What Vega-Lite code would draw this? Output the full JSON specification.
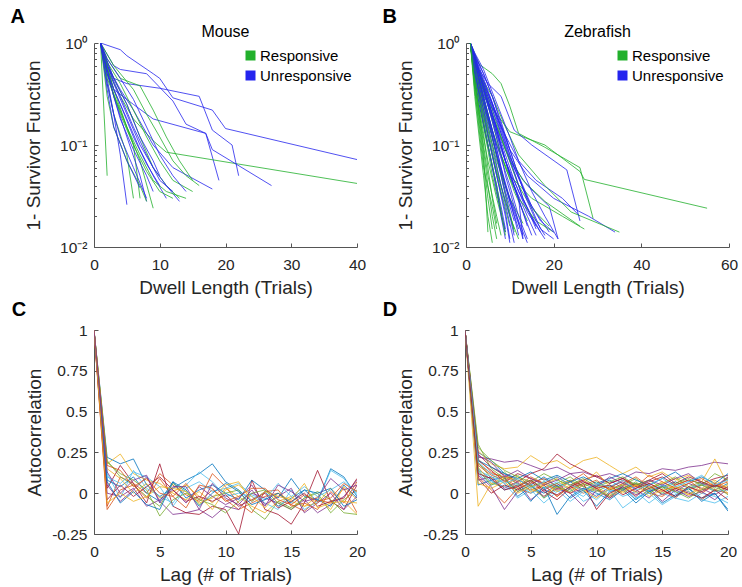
{
"$schema":"https://vega.github.io/schema/vega-lite/v6.json",
"padding":{"left":10,"top":7,"right":5,"bottom":5},
"background":"white",
"config":{"font":"Liberation Sans","view":{"stroke":null},
"axis":{"grid":false,"domainColor":"#555555","tickColor":"#555555","labelColor":"#262626","titleColor":"#262626","labelFontSize":15.5,"titleFontSize":19,"titleFontWeight":"normal","tickSize":-4,"labelFlush":false,"labelOverlap":false},
"axisX":{"labelPadding":14,"titlePadding":6},
"axisY":{"labelPadding":11},
"title":{"color":"#000000","fontWeight":"normal"}},
"resolve":{"scale":{"color":"independent"},"legend":{"color":"independent"}},
"datasets":{
"a":[
{"s":1,"g":"U","x":1,"y":1},{"s":1,"g":"U","x":4,"y":0.86},{"s":1,"g":"U","x":5,"y":0.75},{"s":1,"g":"U","x":9,"y":0.5},{"s":1,"g":"U","x":10,"y":0.45},{"s":1,"g":"U","x":12,"y":0.29},{"s":1,"g":"U","x":18,"y":0.22},{"s":1,"g":"U","x":20,"y":0.145},{"s":1,"g":"U","x":40,"y":0.072},
{"s":2,"g":"R","x":1,"y":1},{"s":2,"g":"R","x":2,"y":0.05},
{"s":3,"g":"U","x":1,"y":1},{"s":3,"g":"U","x":3,"y":0.6},{"s":3,"g":"U","x":4,"y":0.55},{"s":3,"g":"U","x":8,"y":0.5},{"s":3,"g":"U","x":12,"y":0.27},{"s":3,"g":"U","x":14,"y":0.16},{"s":3,"g":"U","x":17,"y":0.13},{"s":3,"g":"U","x":19,"y":0.045},
{"s":4,"g":"R","x":1,"y":1},{"s":4,"g":"R","x":2,"y":0.55},{"s":4,"g":"R","x":4,"y":0.3},{"s":4,"g":"R","x":6,"y":0.18},{"s":4,"g":"R","x":9,"y":0.11},{"s":4,"g":"R","x":11,"y":0.085},{"s":4,"g":"R","x":22,"y":0.065},{"s":4,"g":"R","x":40,"y":0.042},
{"s":5,"g":"U","x":1,"y":1},{"s":5,"g":"U","x":3,"y":0.45},{"s":5,"g":"U","x":5,"y":0.4},{"s":5,"g":"U","x":10,"y":0.36},{"s":5,"g":"U","x":16,"y":0.3},{"s":5,"g":"U","x":18,"y":0.14},{"s":5,"g":"U","x":21,"y":0.1},{"s":5,"g":"U","x":22,"y":0.05},
{"s":6,"g":"R","x":1,"y":1},{"s":6,"g":"R","x":2,"y":0.4},{"s":6,"g":"R","x":3,"y":0.2},{"s":6,"g":"R","x":5,"y":0.08},{"s":6,"g":"R","x":6,"y":0.03},
{"s":7,"g":"U","x":1,"y":1},{"s":7,"g":"U","x":3,"y":0.35},{"s":7,"g":"U","x":6,"y":0.25},{"s":7,"g":"U","x":9,"y":0.18},{"s":7,"g":"U","x":17,"y":0.13},{"s":7,"g":"U","x":18,"y":0.09},{"s":7,"g":"U","x":27,"y":0.04},
{"s":8,"g":"R","x":1,"y":1},{"s":8,"g":"R","x":2,"y":0.5},{"s":8,"g":"R","x":4,"y":0.2},{"s":8,"g":"R","x":6,"y":0.1},{"s":8,"g":"R","x":7,"y":0.03},
{"s":9,"g":"U","x":1,"y":1},{"s":9,"g":"U","x":2,"y":0.6},{"s":9,"g":"U","x":4,"y":0.35},{"s":9,"g":"U","x":6,"y":0.22},{"s":9,"g":"U","x":9,"y":0.1},{"s":9,"g":"U","x":12,"y":0.06},{"s":9,"g":"U","x":18,"y":0.037},
{"s":10,"g":"R","x":1,"y":1},{"s":10,"g":"R","x":2,"y":0.6},{"s":10,"g":"R","x":3,"y":0.45},{"s":10,"g":"R","x":5,"y":0.25},{"s":10,"g":"R","x":7,"y":0.12},{"s":10,"g":"R","x":9,"y":0.06},{"s":10,"g":"R","x":11,"y":0.04},{"s":10,"g":"R","x":13,"y":0.03},
{"s":11,"g":"U","x":1,"y":1},{"s":11,"g":"U","x":2,"y":0.45},{"s":11,"g":"U","x":3,"y":0.2},{"s":11,"g":"U","x":4,"y":0.08},{"s":11,"g":"U","x":5,"y":0.026},
{"s":12,"g":"R","x":1,"y":1},{"s":12,"g":"R","x":2,"y":0.7},{"s":12,"g":"R","x":4,"y":0.45},{"s":12,"g":"R","x":7,"y":0.38},{"s":12,"g":"R","x":9,"y":0.22},{"s":12,"g":"R","x":11,"y":0.12},{"s":12,"g":"R","x":13,"y":0.07},{"s":12,"g":"R","x":15,"y":0.045},
{"s":13,"g":"U","x":1,"y":1},{"s":13,"g":"U","x":2,"y":0.5},{"s":13,"g":"U","x":3,"y":0.3},{"s":13,"g":"U","x":5,"y":0.12},{"s":13,"g":"U","x":7,"y":0.05},{"s":13,"g":"U","x":8,"y":0.028},
{"s":14,"g":"R","x":1,"y":1},{"s":14,"g":"R","x":2,"y":0.55},{"s":14,"g":"R","x":3,"y":0.3},{"s":14,"g":"R","x":5,"y":0.15},{"s":14,"g":"R","x":7,"y":0.07},{"s":14,"g":"R","x":9,"y":0.024},
{"s":15,"g":"U","x":1,"y":1},{"s":15,"g":"U","x":2,"y":0.55},{"s":15,"g":"U","x":3,"y":0.35},{"s":15,"g":"U","x":5,"y":0.18},{"s":15,"g":"U","x":7,"y":0.09},{"s":15,"g":"U","x":9,"y":0.05},{"s":15,"g":"U","x":11,"y":0.03},
{"s":16,"g":"R","x":1,"y":1},{"s":16,"g":"R","x":3,"y":0.6},{"s":16,"g":"R","x":6,"y":0.35},{"s":16,"g":"R","x":8,"y":0.2},{"s":16,"g":"R","x":10,"y":0.12},{"s":16,"g":"R","x":12,"y":0.07},{"s":16,"g":"R","x":14,"y":0.05},{"s":16,"g":"R","x":16,"y":0.04},
{"s":17,"g":"U","x":1,"y":1},{"s":17,"g":"U","x":2,"y":0.6},{"s":17,"g":"U","x":4,"y":0.3},{"s":17,"g":"U","x":6,"y":0.15},{"s":17,"g":"U","x":8,"y":0.08},{"s":17,"g":"U","x":10,"y":0.045},{"s":17,"g":"U","x":12,"y":0.035},
{"s":18,"g":"R","x":1,"y":1},{"s":18,"g":"R","x":2,"y":0.3},{"s":18,"g":"R","x":3,"y":0.15},{"s":18,"g":"R","x":5,"y":0.07},{"s":18,"g":"R","x":7,"y":0.04},{"s":18,"g":"R","x":8,"y":0.028},
{"s":19,"g":"U","x":1,"y":1},{"s":19,"g":"U","x":2,"y":0.4},{"s":19,"g":"U","x":3,"y":0.2},{"s":19,"g":"U","x":4,"y":0.12},{"s":19,"g":"U","x":6,"y":0.06},{"s":19,"g":"U","x":8,"y":0.03},
{"s":20,"g":"R","x":1,"y":1},{"s":20,"g":"R","x":2,"y":0.45},{"s":20,"g":"R","x":4,"y":0.22},{"s":20,"g":"R","x":6,"y":0.1},{"s":20,"g":"R","x":8,"y":0.055},{"s":20,"g":"R","x":10,"y":0.035},{"s":20,"g":"R","x":12,"y":0.03},
{"s":21,"g":"U","x":1,"y":1},{"s":21,"g":"U","x":3,"y":0.4},{"s":21,"g":"U","x":5,"y":0.2},{"s":21,"g":"U","x":7,"y":0.1},{"s":21,"g":"U","x":9,"y":0.06},{"s":21,"g":"U","x":11,"y":0.04},{"s":21,"g":"U","x":13,"y":0.028},
{"s":22,"g":"R","x":1,"y":1},{"s":22,"g":"R","x":2,"y":0.65},{"s":22,"g":"R","x":4,"y":0.4},{"s":22,"g":"R","x":6,"y":0.22},{"s":22,"g":"R","x":8,"y":0.12},{"s":22,"g":"R","x":10,"y":0.07},{"s":22,"g":"R","x":12,"y":0.045},{"s":22,"g":"R","x":15,"y":0.035},
{"s":23,"g":"U","x":1,"y":1},{"s":23,"g":"U","x":2,"y":0.7},{"s":23,"g":"U","x":4,"y":0.45},{"s":23,"g":"U","x":6,"y":0.28},{"s":23,"g":"U","x":8,"y":0.15},{"s":23,"g":"U","x":10,"y":0.08},{"s":23,"g":"U","x":12,"y":0.05},{"s":23,"g":"U","x":14,"y":0.035},
{"s":24,"g":"R","x":1,"y":1},{"s":24,"g":"R","x":3,"y":0.35},{"s":24,"g":"R","x":5,"y":0.15},{"s":24,"g":"R","x":7,"y":0.08},{"s":24,"g":"R","x":9,"y":0.045},{"s":24,"g":"R","x":11,"y":0.035},{"s":24,"g":"R","x":14,"y":0.03},
{"s":25,"g":"U","x":1,"y":1},{"s":25,"g":"U","x":2,"y":0.35},{"s":25,"g":"U","x":3,"y":0.15},{"s":25,"g":"U","x":5,"y":0.07},{"s":25,"g":"U","x":7,"y":0.038},
{"s":26,"g":"U","x":1,"y":1},{"s":26,"g":"U","x":2,"y":0.65},{"s":26,"g":"U","x":3,"y":0.45},{"s":26,"g":"U","x":5,"y":0.25},{"s":26,"g":"U","x":7,"y":0.12},{"s":26,"g":"U","x":9,"y":0.07},{"s":26,"g":"U","x":10,"y":0.05},
{"s":27,"g":"U","x":1,"y":1},{"s":27,"g":"U","x":3,"y":0.3},{"s":27,"g":"U","x":4,"y":0.18},{"s":27,"g":"U","x":6,"y":0.09},{"s":27,"g":"U","x":8,"y":0.05},{"s":27,"g":"U","x":9,"y":0.035},
{"s":28,"g":"U","x":1,"y":1},{"s":28,"g":"U","x":2,"y":0.5},{"s":28,"g":"U","x":4,"y":0.25},{"s":28,"g":"U","x":6,"y":0.12},{"s":28,"g":"U","x":8,"y":0.065},{"s":28,"g":"U","x":10,"y":0.04}
],
"b":[
{"s":1,"g":"U","x":1,"y":1},{"s":1,"g":"U","x":2,"y":0.7},{"s":1,"g":"U","x":4,"y":0.4},{"s":1,"g":"U","x":7,"y":0.2},{"s":1,"g":"U","x":10,"y":0.09},{"s":1,"g":"U","x":14,"y":0.05},{"s":1,"g":"U","x":20,"y":0.03},{"s":1,"g":"U","x":28,"y":0.02},{"s":1,"g":"U","x":34,"y":0.014},
{"s":2,"g":"R","x":1,"y":1},{"s":2,"g":"R","x":2,"y":0.6},{"s":2,"g":"R","x":4,"y":0.3},{"s":2,"g":"R","x":7,"y":0.2},{"s":2,"g":"R","x":10,"y":0.135},{"s":2,"g":"R","x":13,"y":0.12},{"s":2,"g":"R","x":18,"y":0.1},{"s":2,"g":"R","x":26,"y":0.055},{"s":2,"g":"R","x":27,"y":0.046},{"s":2,"g":"R","x":55,"y":0.024},
{"s":3,"g":"U","x":1,"y":1},{"s":3,"g":"U","x":3,"y":0.55},{"s":3,"g":"U","x":5,"y":0.4},{"s":3,"g":"U","x":8,"y":0.3},{"s":3,"g":"U","x":11,"y":0.14},{"s":3,"g":"U","x":15,"y":0.1},{"s":3,"g":"U","x":23,"y":0.057},{"s":3,"g":"U","x":26,"y":0.018},
{"s":4,"g":"R","x":1,"y":1},{"s":4,"g":"R","x":3,"y":0.62},{"s":4,"g":"R","x":6,"y":0.5},{"s":4,"g":"R","x":8,"y":0.4},{"s":4,"g":"R","x":10,"y":0.24},{"s":4,"g":"R","x":12,"y":0.13},{"s":4,"g":"R","x":18,"y":0.095},{"s":4,"g":"R","x":26,"y":0.06},{"s":4,"g":"R","x":29,"y":0.019},
{"s":5,"g":"U","x":1,"y":1},{"s":5,"g":"U","x":3,"y":0.5},{"s":5,"g":"U","x":5,"y":0.3},{"s":5,"g":"U","x":8,"y":0.15},{"s":5,"g":"U","x":12,"y":0.07},{"s":5,"g":"U","x":16,"y":0.045},{"s":5,"g":"U","x":22,"y":0.03},{"s":5,"g":"U","x":26,"y":0.02},
{"s":6,"g":"R","x":1,"y":1},{"s":6,"g":"R","x":3,"y":0.5},{"s":6,"g":"R","x":6,"y":0.3},{"s":6,"g":"R","x":9,"y":0.15},{"s":6,"g":"R","x":12,"y":0.08},{"s":6,"g":"R","x":18,"y":0.04},{"s":6,"g":"R","x":24,"y":0.022},{"s":6,"g":"R","x":35,"y":0.014},
{"s":7,"g":"U","x":1,"y":1},{"s":7,"g":"U","x":2,"y":0.6},{"s":7,"g":"U","x":4,"y":0.35},{"s":7,"g":"U","x":7,"y":0.15},{"s":7,"g":"U","x":10,"y":0.07},{"s":7,"g":"U","x":14,"y":0.04},{"s":7,"g":"U","x":19,"y":0.025},{"s":7,"g":"U","x":21,"y":0.012},
{"s":8,"g":"R","x":1,"y":1},{"s":8,"g":"R","x":2,"y":0.5},{"s":8,"g":"R","x":4,"y":0.25},{"s":8,"g":"R","x":7,"y":0.1},{"s":8,"g":"R","x":10,"y":0.05},{"s":8,"g":"R","x":15,"y":0.03},{"s":8,"g":"R","x":22,"y":0.02},{"s":8,"g":"R","x":27,"y":0.015},
{"s":9,"g":"U","x":1,"y":1},{"s":9,"g":"U","x":2,"y":0.65},{"s":9,"g":"U","x":3,"y":0.45},{"s":9,"g":"U","x":5,"y":0.25},{"s":9,"g":"U","x":7,"y":0.13},{"s":9,"g":"U","x":9,"y":0.07},{"s":9,"g":"U","x":12,"y":0.035},{"s":9,"g":"U","x":15,"y":0.02},{"s":9,"g":"U","x":17,"y":0.014},
{"s":10,"g":"R","x":1,"y":1},{"s":10,"g":"R","x":3,"y":0.45},{"s":10,"g":"R","x":6,"y":0.2},{"s":10,"g":"R","x":9,"y":0.09},{"s":10,"g":"R","x":13,"y":0.045},{"s":10,"g":"R","x":18,"y":0.028},{"s":10,"g":"R","x":26,"y":0.016},
{"s":11,"g":"U","x":1,"y":1},{"s":11,"g":"U","x":2,"y":0.6},{"s":11,"g":"U","x":3,"y":0.38},{"s":11,"g":"U","x":5,"y":0.17},{"s":11,"g":"U","x":7,"y":0.08},{"s":11,"g":"U","x":9,"y":0.04},{"s":11,"g":"U","x":11,"y":0.022},{"s":11,"g":"U","x":13,"y":0.013},
{"s":12,"g":"R","x":1,"y":1},{"s":12,"g":"R","x":2,"y":0.4},{"s":12,"g":"R","x":3,"y":0.18},{"s":12,"g":"R","x":4,"y":0.08},{"s":12,"g":"R","x":5,"y":0.014},
{"s":13,"g":"U","x":1,"y":1},{"s":13,"g":"U","x":2,"y":0.7},{"s":13,"g":"U","x":4,"y":0.42},{"s":13,"g":"U","x":6,"y":0.25},{"s":13,"g":"U","x":8,"y":0.13},{"s":13,"g":"U","x":10,"y":0.07},{"s":13,"g":"U","x":13,"y":0.03},{"s":13,"g":"U","x":16,"y":0.016},
{"s":14,"g":"R","x":1,"y":1},{"s":14,"g":"R","x":2,"y":0.45},{"s":14,"g":"R","x":3,"y":0.22},{"s":14,"g":"R","x":4,"y":0.1},{"s":14,"g":"R","x":5,"y":0.05},{"s":14,"g":"R","x":7,"y":0.02},{"s":14,"g":"R","x":8,"y":0.013},
{"s":15,"g":"U","x":1,"y":1},{"s":15,"g":"U","x":2,"y":0.55},{"s":15,"g":"U","x":3,"y":0.32},{"s":15,"g":"U","x":5,"y":0.12},{"s":15,"g":"U","x":7,"y":0.05},{"s":15,"g":"U","x":9,"y":0.022},{"s":15,"g":"U","x":10,"y":0.012},
{"s":16,"g":"R","x":1,"y":1},{"s":16,"g":"R","x":2,"y":0.35},{"s":16,"g":"R","x":3,"y":0.14},{"s":16,"g":"R","x":4,"y":0.06},{"s":16,"g":"R","x":6,"y":0.025},{"s":16,"g":"R","x":7,"y":0.015},
{"s":17,"g":"U","x":1,"y":1},{"s":17,"g":"U","x":2,"y":0.75},{"s":17,"g":"U","x":4,"y":0.5},{"s":17,"g":"U","x":6,"y":0.3},{"s":17,"g":"U","x":8,"y":0.16},{"s":17,"g":"U","x":10,"y":0.09},{"s":17,"g":"U","x":12,"y":0.05},{"s":17,"g":"U","x":15,"y":0.025},{"s":17,"g":"U","x":19,"y":0.014},
{"s":18,"g":"R","x":1,"y":1},{"s":18,"g":"R","x":2,"y":0.5},{"s":18,"g":"R","x":3,"y":0.3},{"s":18,"g":"R","x":5,"y":0.12},{"s":18,"g":"R","x":7,"y":0.055},{"s":18,"g":"R","x":9,"y":0.028},{"s":18,"g":"R","x":11,"y":0.015},
{"s":19,"g":"U","x":1,"y":1},{"s":19,"g":"U","x":2,"y":0.6},{"s":19,"g":"U","x":4,"y":0.28},{"s":19,"g":"U","x":6,"y":0.12},{"s":19,"g":"U","x":8,"y":0.055},{"s":19,"g":"U","x":10,"y":0.028},{"s":19,"g":"U","x":12,"y":0.015},
{"s":20,"g":"R","x":1,"y":1},{"s":20,"g":"R","x":2,"y":0.55},{"s":20,"g":"R","x":4,"y":0.22},{"s":20,"g":"R","x":6,"y":0.09},{"s":20,"g":"R","x":8,"y":0.04},{"s":20,"g":"R","x":10,"y":0.02},{"s":20,"g":"R","x":12,"y":0.012},
{"s":21,"g":"U","x":1,"y":1},{"s":21,"g":"U","x":2,"y":0.65},{"s":21,"g":"U","x":4,"y":0.35},{"s":21,"g":"U","x":6,"y":0.18},{"s":21,"g":"U","x":8,"y":0.09},{"s":21,"g":"U","x":11,"y":0.04},{"s":21,"g":"U","x":14,"y":0.02},{"s":21,"g":"U","x":16,"y":0.013},
{"s":22,"g":"R","x":1,"y":1},{"s":22,"g":"R","x":2,"y":0.4},{"s":22,"g":"R","x":3,"y":0.2},{"s":22,"g":"R","x":5,"y":0.07},{"s":22,"g":"R","x":7,"y":0.03},{"s":22,"g":"R","x":9,"y":0.014},
{"s":23,"g":"U","x":1,"y":1},{"s":23,"g":"U","x":2,"y":0.7},{"s":23,"g":"U","x":3,"y":0.5},{"s":23,"g":"U","x":5,"y":0.28},{"s":23,"g":"U","x":7,"y":0.15},{"s":23,"g":"U","x":9,"y":0.08},{"s":23,"g":"U","x":11,"y":0.045},{"s":23,"g":"U","x":14,"y":0.022},{"s":23,"g":"U","x":18,"y":0.012},
{"s":24,"g":"R","x":1,"y":1},{"s":24,"g":"R","x":2,"y":0.6},{"s":24,"g":"R","x":4,"y":0.3},{"s":24,"g":"R","x":6,"y":0.14},{"s":24,"g":"R","x":9,"y":0.06},{"s":24,"g":"R","x":12,"y":0.03},{"s":24,"g":"R","x":16,"y":0.018},{"s":24,"g":"R","x":20,"y":0.014},
{"s":25,"g":"U","x":1,"y":1},{"s":25,"g":"U","x":2,"y":0.5},{"s":25,"g":"U","x":3,"y":0.28},{"s":25,"g":"U","x":4,"y":0.16},{"s":25,"g":"U","x":6,"y":0.06},{"s":25,"g":"U","x":8,"y":0.025},{"s":25,"g":"U","x":9,"y":0.015},
{"s":26,"g":"R","x":1,"y":1},{"s":26,"g":"R","x":2,"y":0.3},{"s":26,"g":"R","x":3,"y":0.12},{"s":26,"g":"R","x":4,"y":0.05},{"s":26,"g":"R","x":5,"y":0.02},{"s":26,"g":"R","x":6,"y":0.011},
{"s":27,"g":"U","x":1,"y":1},{"s":27,"g":"U","x":2,"y":0.8},{"s":27,"g":"U","x":4,"y":0.55},{"s":27,"g":"U","x":6,"y":0.33},{"s":27,"g":"U","x":8,"y":0.2},{"s":27,"g":"U","x":10,"y":0.12},{"s":27,"g":"U","x":12,"y":0.07},{"s":27,"g":"U","x":15,"y":0.035},{"s":27,"g":"U","x":18,"y":0.02},{"s":27,"g":"U","x":21,"y":0.012},
{"s":28,"g":"R","x":1,"y":1},{"s":28,"g":"R","x":2,"y":0.5},{"s":28,"g":"R","x":4,"y":0.2},{"s":28,"g":"R","x":6,"y":0.08},{"s":28,"g":"R","x":8,"y":0.035},{"s":28,"g":"R","x":10,"y":0.016},
{"s":29,"g":"U","x":1,"y":1},{"s":29,"g":"U","x":2,"y":0.6},{"s":29,"g":"U","x":3,"y":0.4},{"s":29,"g":"U","x":5,"y":0.18},{"s":29,"g":"U","x":7,"y":0.08},{"s":29,"g":"U","x":9,"y":0.035},{"s":29,"g":"U","x":11,"y":0.018},
{"s":30,"g":"R","x":1,"y":1},{"s":30,"g":"R","x":2,"y":0.65},{"s":30,"g":"R","x":4,"y":0.35},{"s":30,"g":"R","x":6,"y":0.17},{"s":30,"g":"R","x":8,"y":0.08},{"s":30,"g":"R","x":11,"y":0.035},{"s":30,"g":"R","x":14,"y":0.018},
{"s":31,"g":"U","x":1,"y":1},{"s":31,"g":"U","x":2,"y":0.55},{"s":31,"g":"U","x":4,"y":0.25},{"s":31,"g":"U","x":6,"y":0.1},{"s":31,"g":"U","x":8,"y":0.04},{"s":31,"g":"U","x":10,"y":0.017},{"s":31,"g":"U","x":11,"y":0.011},
{"s":32,"g":"U","x":1,"y":1},{"s":32,"g":"U","x":2,"y":0.7},{"s":32,"g":"U","x":4,"y":0.38},{"s":32,"g":"U","x":6,"y":0.2},{"s":32,"g":"U","x":8,"y":0.1},{"s":32,"g":"U","x":10,"y":0.05},{"s":32,"g":"U","x":13,"y":0.022},{"s":32,"g":"U","x":15,"y":0.013},
{"s":33,"g":"R","x":1,"y":1},{"s":33,"g":"R","x":2,"y":0.45},{"s":33,"g":"R","x":3,"y":0.25},{"s":33,"g":"R","x":5,"y":0.09},{"s":33,"g":"R","x":6,"y":0.05},{"s":33,"g":"R","x":8,"y":0.022},
{"s":34,"g":"U","x":1,"y":1},{"s":34,"g":"U","x":3,"y":0.5},{"s":34,"g":"U","x":5,"y":0.27},{"s":34,"g":"U","x":7,"y":0.14},{"s":34,"g":"U","x":9,"y":0.07},{"s":34,"g":"U","x":12,"y":0.03},{"s":34,"g":"U","x":14,"y":0.016},
{"s":35,"g":"U","x":1,"y":1},{"s":35,"g":"U","x":2,"y":0.45},{"s":35,"g":"U","x":3,"y":0.25},{"s":35,"g":"U","x":5,"y":0.1},{"s":35,"g":"U","x":7,"y":0.04},{"s":35,"g":"U","x":8,"y":0.02},{"s":35,"g":"U","x":9,"y":0.012},
{"s":36,"g":"R","x":1,"y":1},{"s":36,"g":"R","x":2,"y":0.55},{"s":36,"g":"R","x":3,"y":0.35},{"s":36,"g":"R","x":5,"y":0.15},{"s":36,"g":"R","x":7,"y":0.07},{"s":36,"g":"R","x":10,"y":0.03},{"s":36,"g":"R","x":13,"y":0.017},
{"s":37,"g":"U","x":1,"y":1},{"s":37,"g":"U","x":2,"y":0.75},{"s":37,"g":"U","x":4,"y":0.45},{"s":37,"g":"U","x":6,"y":0.26},{"s":37,"g":"U","x":8,"y":0.14},{"s":37,"g":"U","x":11,"y":0.06},{"s":37,"g":"U","x":14,"y":0.03},{"s":37,"g":"U","x":17,"y":0.018},{"s":37,"g":"U","x":20,"y":0.014},
{"s":38,"g":"U","x":1,"y":1},{"s":38,"g":"U","x":2,"y":0.6},{"s":38,"g":"U","x":4,"y":0.32},{"s":38,"g":"U","x":7,"y":0.14},{"s":38,"g":"U","x":9,"y":0.07},{"s":38,"g":"U","x":12,"y":0.03},{"s":38,"g":"U","x":13,"y":0.012},
{"s":39,"g":"R","x":1,"y":1},{"s":39,"g":"R","x":2,"y":0.7},{"s":39,"g":"R","x":4,"y":0.4},{"s":39,"g":"R","x":6,"y":0.22},{"s":39,"g":"R","x":9,"y":0.09},{"s":39,"g":"R","x":12,"y":0.04},{"s":39,"g":"R","x":15,"y":0.024},{"s":39,"g":"R","x":19,"y":0.016},
{"s":40,"g":"U","x":1,"y":1},{"s":40,"g":"U","x":3,"y":0.42},{"s":40,"g":"U","x":5,"y":0.2},{"s":40,"g":"U","x":7,"y":0.09},{"s":40,"g":"U","x":9,"y":0.04},{"s":40,"g":"U","x":11,"y":0.02},{"s":40,"g":"U","x":12,"y":0.013},
{"s":41,"g":"U","x":1,"y":1},{"s":41,"g":"U","x":2,"y":0.55},{"s":41,"g":"U","x":3,"y":0.3},{"s":41,"g":"U","x":4,"y":0.17},{"s":41,"g":"U","x":6,"y":0.06},{"s":41,"g":"U","x":7,"y":0.035},{"s":41,"g":"U","x":9,"y":0.014},
{"s":42,"g":"R","x":1,"y":1},{"s":42,"g":"R","x":2,"y":0.45},{"s":42,"g":"R","x":3,"y":0.2},{"s":42,"g":"R","x":4,"y":0.09},{"s":42,"g":"R","x":5,"y":0.04},{"s":42,"g":"R","x":6,"y":0.02},{"s":42,"g":"R","x":7,"y":0.012},
{"s":43,"g":"U","x":1,"y":1},{"s":43,"g":"U","x":2,"y":0.65},{"s":43,"g":"U","x":4,"y":0.3},{"s":43,"g":"U","x":6,"y":0.14},{"s":43,"g":"U","x":8,"y":0.06},{"s":43,"g":"U","x":10,"y":0.03},{"s":43,"g":"U","x":12,"y":0.018},{"s":43,"g":"U","x":14,"y":0.011},
{"s":44,"g":"U","x":1,"y":1},{"s":44,"g":"U","x":2,"y":0.72},{"s":44,"g":"U","x":3,"y":0.52},{"s":44,"g":"U","x":5,"y":0.3},{"s":44,"g":"U","x":7,"y":0.17},{"s":44,"g":"U","x":9,"y":0.1},{"s":44,"g":"U","x":11,"y":0.055},{"s":44,"g":"U","x":13,"y":0.03},{"s":44,"g":"U","x":16,"y":0.015},
{"s":45,"g":"R","x":1,"y":1},{"s":45,"g":"R","x":2,"y":0.5},{"s":45,"g":"R","x":3,"y":0.28},{"s":45,"g":"R","x":5,"y":0.1},{"s":45,"g":"R","x":7,"y":0.04},{"s":45,"g":"R","x":8,"y":0.022},{"s":45,"g":"R","x":9,"y":0.013},
{"s":46,"g":"U","x":1,"y":1},{"s":46,"g":"U","x":2,"y":0.6},{"s":46,"g":"U","x":3,"y":0.4},{"s":46,"g":"U","x":5,"y":0.2},{"s":46,"g":"U","x":7,"y":0.1},{"s":46,"g":"U","x":10,"y":0.04},{"s":46,"g":"U","x":12,"y":0.02},{"s":46,"g":"U","x":14,"y":0.012},
{"s":47,"g":"U","x":1,"y":1},{"s":47,"g":"U","x":3,"y":0.55},{"s":47,"g":"U","x":5,"y":0.33},{"s":47,"g":"U","x":7,"y":0.2},{"s":47,"g":"U","x":9,"y":0.11},{"s":47,"g":"U","x":11,"y":0.06},{"s":47,"g":"U","x":14,"y":0.03},{"s":47,"g":"U","x":17,"y":0.015},{"s":47,"g":"U","x":20,"y":0.012},
{"s":48,"g":"R","x":1,"y":1},{"s":48,"g":"R","x":2,"y":0.35},{"s":48,"g":"R","x":3,"y":0.16},{"s":48,"g":"R","x":4,"y":0.07},{"s":48,"g":"R","x":5,"y":0.03},{"s":48,"g":"R","x":6,"y":0.015},
{"s":49,"g":"U","x":1,"y":1},{"s":49,"g":"U","x":2,"y":0.68},{"s":49,"g":"U","x":4,"y":0.36},{"s":49,"g":"U","x":6,"y":0.17},{"s":49,"g":"U","x":8,"y":0.08},{"s":49,"g":"U","x":9,"y":0.05},{"s":49,"g":"U","x":11,"y":0.025},{"s":49,"g":"U","x":13,"y":0.012},
{"s":50,"g":"U","x":1,"y":1},{"s":50,"g":"U","x":2,"y":0.5},{"s":50,"g":"U","x":4,"y":0.22},{"s":50,"g":"U","x":5,"y":0.13},{"s":50,"g":"U","x":7,"y":0.05},{"s":50,"g":"U","x":9,"y":0.02},{"s":50,"g":"U","x":10,"y":0.011},
{"s":51,"g":"R","x":1,"y":1},{"s":51,"g":"R","x":2,"y":0.6},{"s":51,"g":"R","x":4,"y":0.28},{"s":51,"g":"R","x":6,"y":0.12},{"s":51,"g":"R","x":8,"y":0.05},{"s":51,"g":"R","x":10,"y":0.022},{"s":51,"g":"R","x":11,"y":0.014},
{"s":52,"g":"U","x":1,"y":1},{"s":52,"g":"U","x":2,"y":0.78},{"s":52,"g":"U","x":4,"y":0.5},{"s":52,"g":"U","x":6,"y":0.3},{"s":52,"g":"U","x":8,"y":0.17},{"s":52,"g":"U","x":10,"y":0.09},{"s":52,"g":"U","x":12,"y":0.05},{"s":52,"g":"U","x":14,"y":0.028},{"s":52,"g":"U","x":16,"y":0.018},{"s":52,"g":"U","x":18,"y":0.013},
{"s":53,"g":"U","x":1,"y":1},{"s":53,"g":"U","x":2,"y":0.62},{"s":53,"g":"U","x":3,"y":0.42},{"s":53,"g":"U","x":5,"y":0.19},{"s":53,"g":"U","x":6,"y":0.12},{"s":53,"g":"U","x":8,"y":0.05},{"s":53,"g":"U","x":10,"y":0.02},{"s":53,"g":"U","x":11,"y":0.013},
{"s":54,"g":"R","x":1,"y":1},{"s":54,"g":"R","x":2,"y":0.4},{"s":54,"g":"R","x":4,"y":0.13},{"s":54,"g":"R","x":5,"y":0.06},{"s":54,"g":"R","x":6,"y":0.03},{"s":54,"g":"R","x":7,"y":0.017}
],
"c":[
{"s":1,"x":0,"y":1},{"s":1,"x":1,"y":0.22},{"s":1,"x":2,"y":0.18},{"s":1,"x":3,"y":0.21},{"s":1,"x":4,"y":0.05},{"s":1,"x":5,"y":-0.02},{"s":1,"x":6,"y":0.03},{"s":1,"x":7,"y":0.08},{"s":1,"x":8,"y":0.12},{"s":1,"x":9,"y":0.18},{"s":1,"x":10,"y":0.07},{"s":1,"x":11,"y":0.02},{"s":1,"x":12,"y":-0.05},{"s":1,"x":13,"y":0.01},{"s":1,"x":14,"y":-0.08},{"s":1,"x":15,"y":-0.03},{"s":1,"x":16,"y":0.02},{"s":1,"x":17,"y":-0.05},{"s":1,"x":18,"y":0.15},{"s":1,"x":19,"y":0.1},{"s":1,"x":20,"y":-0.02},
{"s":2,"x":0,"y":1},{"s":2,"x":1,"y":-0.08},{"s":2,"x":2,"y":0.1},{"s":2,"x":3,"y":0.06},{"s":2,"x":4,"y":0},{"s":2,"x":5,"y":0.12},{"s":2,"x":6,"y":0.05},{"s":2,"x":7,"y":-0.01},{"s":2,"x":8,"y":-0.05},{"s":2,"x":9,"y":0.02},{"s":2,"x":10,"y":-0.04},{"s":2,"x":11,"y":-0.1},{"s":2,"x":12,"y":-0.06},{"s":2,"x":13,"y":-0.02},{"s":2,"x":14,"y":0},{"s":2,"x":15,"y":-0.07},{"s":2,"x":16,"y":-0.11},{"s":2,"x":17,"y":-0.04},{"s":2,"x":18,"y":-0.06},{"s":2,"x":19,"y":0.03},{"s":2,"x":20,"y":-0.12},
{"s":3,"x":0,"y":1},{"s":3,"x":1,"y":0.18},{"s":3,"x":2,"y":0.24},{"s":3,"x":3,"y":0.12},{"s":3,"x":4,"y":0.08},{"s":3,"x":5,"y":0.06},{"s":3,"x":6,"y":0},{"s":3,"x":7,"y":-0.04},{"s":3,"x":8,"y":0.01},{"s":3,"x":9,"y":-0.06},{"s":3,"x":10,"y":0.03},{"s":3,"x":11,"y":-0.02},{"s":3,"x":12,"y":-0.08},{"s":3,"x":13,"y":-0.12},{"s":3,"x":14,"y":-0.05},{"s":3,"x":15,"y":-0.02},{"s":3,"x":16,"y":-0.08},{"s":3,"x":17,"y":-0.06},{"s":3,"x":18,"y":0.03},{"s":3,"x":19,"y":-0.05},{"s":3,"x":20,"y":-0.13},
{"s":4,"x":0,"y":1},{"s":4,"x":1,"y":0.05},{"s":4,"x":2,"y":-0.05},{"s":4,"x":3,"y":0.02},{"s":4,"x":4,"y":0.1},{"s":4,"x":5,"y":-0.05},{"s":4,"x":6,"y":-0.13},{"s":4,"x":7,"y":-0.12},{"s":4,"x":8,"y":-0.1},{"s":4,"x":9,"y":-0.15},{"s":4,"x":10,"y":-0.08},{"s":4,"x":11,"y":-0.1},{"s":4,"x":12,"y":0},{"s":4,"x":13,"y":-0.03},{"s":4,"x":14,"y":-0.06},{"s":4,"x":15,"y":-0.1},{"s":4,"x":16,"y":-0.04},{"s":4,"x":17,"y":-0.12},{"s":4,"x":18,"y":-0.07},{"s":4,"x":19,"y":-0.02},{"s":4,"x":20,"y":0.08},
{"s":5,"x":0,"y":1},{"s":5,"x":1,"y":0.2},{"s":5,"x":2,"y":0.1},{"s":5,"x":3,"y":0.05},{"s":5,"x":4,"y":-0.02},{"s":5,"x":5,"y":-0.08},{"s":5,"x":6,"y":0.06},{"s":5,"x":7,"y":0.01},{"s":5,"x":8,"y":-0.07},{"s":5,"x":9,"y":-0.02},{"s":5,"x":10,"y":0},{"s":5,"x":11,"y":0.02},{"s":5,"x":12,"y":-0.1},{"s":5,"x":13,"y":-0.16},{"s":5,"x":14,"y":-0.05},{"s":5,"x":15,"y":-0.09},{"s":5,"x":16,"y":-0.03},{"s":5,"x":17,"y":0},{"s":5,"x":18,"y":-0.12},{"s":5,"x":19,"y":-0.04},{"s":5,"x":20,"y":0.02},
{"s":6,"x":0,"y":1},{"s":6,"x":1,"y":0.12},{"s":6,"x":2,"y":-0.03},{"s":6,"x":3,"y":0.14},{"s":6,"x":4,"y":0.03},{"s":6,"x":5,"y":-0.02},{"s":6,"x":6,"y":-0.06},{"s":6,"x":7,"y":0.05},{"s":6,"x":8,"y":0.13},{"s":6,"x":9,"y":0.07},{"s":6,"x":10,"y":-0.02},{"s":6,"x":11,"y":0},{"s":6,"x":12,"y":-0.02},{"s":6,"x":13,"y":-0.06},{"s":6,"x":14,"y":-0.1},{"s":6,"x":15,"y":0.02},{"s":6,"x":16,"y":-0.1},{"s":6,"x":17,"y":-0.05},{"s":6,"x":18,"y":0.14},{"s":6,"x":19,"y":0.09},{"s":6,"x":20,"y":-0.01},
{"s":7,"x":0,"y":1},{"s":7,"x":1,"y":0.03},{"s":7,"x":2,"y":0.17},{"s":7,"x":3,"y":0.06},{"s":7,"x":4,"y":-0.06},{"s":7,"x":5,"y":0.18},{"s":7,"x":6,"y":-0.08},{"s":7,"x":7,"y":-0.12},{"s":7,"x":8,"y":-0.13},{"s":7,"x":9,"y":-0.08},{"s":7,"x":10,"y":-0.1},{"s":7,"x":11,"y":-0.25},{"s":7,"x":12,"y":0.08},{"s":7,"x":13,"y":-0.1},{"s":7,"x":14,"y":-0.13},{"s":7,"x":15,"y":-0.19},{"s":7,"x":16,"y":-0.06},{"s":7,"x":17,"y":0.14},{"s":7,"x":18,"y":-0.05},{"s":7,"x":19,"y":-0.1},{"s":7,"x":20,"y":0.05},
{"s":8,"x":0,"y":1},{"s":8,"x":1,"y":0.08},{"s":8,"x":2,"y":0.04},{"s":8,"x":3,"y":0.1},{"s":8,"x":4,"y":0},{"s":8,"x":5,"y":-0.05},{"s":8,"x":6,"y":0.07},{"s":8,"x":7,"y":-0.03},{"s":8,"x":8,"y":0.02},{"s":8,"x":9,"y":0.05},{"s":8,"x":10,"y":0},{"s":8,"x":11,"y":-0.04},{"s":8,"x":12,"y":0.08},{"s":8,"x":13,"y":0.02},{"s":8,"x":14,"y":-0.03},{"s":8,"x":15,"y":0.09},{"s":8,"x":16,"y":-0.02},{"s":8,"x":17,"y":-0.04},{"s":8,"x":18,"y":-0.08},{"s":8,"x":19,"y":0.05},{"s":8,"x":20,"y":-0.03},
{"s":9,"x":0,"y":1},{"s":9,"x":1,"y":-0.1},{"s":9,"x":2,"y":0.02},{"s":9,"x":3,"y":0.05},{"s":9,"x":4,"y":-0.03},{"s":9,"x":5,"y":0.09},{"s":9,"x":6,"y":-0.02},{"s":9,"x":7,"y":0.06},{"s":9,"x":8,"y":-0.04},{"s":9,"x":9,"y":0.12},{"s":9,"x":10,"y":0.04},{"s":9,"x":11,"y":-0.06},{"s":9,"x":12,"y":-0.12},{"s":9,"x":13,"y":0.01},{"s":9,"x":14,"y":0.02},{"s":9,"x":15,"y":-0.08},{"s":9,"x":16,"y":-0.06},{"s":9,"x":17,"y":-0.1},{"s":9,"x":18,"y":0.01},{"s":9,"x":19,"y":-0.06},{"s":9,"x":20,"y":0.07},
{"s":10,"x":0,"y":1},{"s":10,"x":1,"y":0.15},{"s":10,"x":2,"y":0.09},{"s":10,"x":3,"y":0},{"s":10,"x":4,"y":0.06},{"s":10,"x":5,"y":-0.03},{"s":10,"x":6,"y":0.01},{"s":10,"x":7,"y":0.05},{"s":10,"x":8,"y":-0.02},{"s":10,"x":9,"y":-0.1},{"s":10,"x":10,"y":0.02},{"s":10,"x":11,"y":0.05},{"s":10,"x":12,"y":-0.02},{"s":10,"x":13,"y":-0.09},{"s":10,"x":14,"y":0},{"s":10,"x":15,"y":-0.05},{"s":10,"x":16,"y":-0.08},{"s":10,"x":17,"y":-0.02},{"s":10,"x":18,"y":-0.1},{"s":10,"x":19,"y":0.04},{"s":10,"x":20,"y":-0.04},
{"s":11,"x":0,"y":1},{"s":11,"x":1,"y":0},{"s":11,"x":2,"y":-0.02},{"s":11,"x":3,"y":0.03},{"s":11,"x":4,"y":-0.08},{"s":11,"x":5,"y":-0.04},{"s":11,"x":6,"y":0.02},{"s":11,"x":7,"y":-0.06},{"s":11,"x":8,"y":0.04},{"s":11,"x":9,"y":-0.02},{"s":11,"x":10,"y":-0.07},{"s":11,"x":11,"y":-0.03},{"s":11,"x":12,"y":0.05},{"s":11,"x":13,"y":-0.07},{"s":11,"x":14,"y":-0.02},{"s":11,"x":15,"y":0.03},{"s":11,"x":16,"y":-0.12},{"s":11,"x":17,"y":-0.06},{"s":11,"x":18,"y":0},{"s":11,"x":19,"y":-0.1},{"s":11,"x":20,"y":-0.02},
{"s":12,"x":0,"y":1},{"s":12,"x":1,"y":0.19},{"s":12,"x":2,"y":0.12},{"s":12,"x":3,"y":0.08},{"s":12,"x":4,"y":0.02},{"s":12,"x":5,"y":-0.14},{"s":12,"x":6,"y":-0.04},{"s":12,"x":7,"y":0},{"s":12,"x":8,"y":-0.04},{"s":12,"x":9,"y":-0.07},{"s":12,"x":10,"y":-0.12},{"s":12,"x":11,"y":-0.05},{"s":12,"x":12,"y":0},{"s":12,"x":13,"y":0.02},{"s":12,"x":14,"y":-0.06},{"s":12,"x":15,"y":-0.1},{"s":12,"x":16,"y":-0.03},{"s":12,"x":17,"y":0.01},{"s":12,"x":18,"y":-0.04},{"s":12,"x":19,"y":-0.12},{"s":12,"x":20,"y":-0.13},
{"s":13,"x":0,"y":1},{"s":13,"x":1,"y":0.1},{"s":13,"x":2,"y":0.06},{"s":13,"x":3,"y":0.13},{"s":13,"x":4,"y":0.1},{"s":13,"x":5,"y":0.04},{"s":13,"x":6,"y":-0.08},{"s":13,"x":7,"y":0.03},{"s":13,"x":8,"y":0.07},{"s":13,"x":9,"y":0.01},{"s":13,"x":10,"y":0.03},{"s":13,"x":11,"y":0.06},{"s":13,"x":12,"y":-0.01},{"s":13,"x":13,"y":-0.04},{"s":13,"x":14,"y":0.06},{"s":13,"x":15,"y":-0.02},{"s":13,"x":16,"y":0.04},{"s":13,"x":17,"y":-0.02},{"s":13,"x":18,"y":0.02},{"s":13,"x":19,"y":0.07},{"s":13,"x":20,"y":0},
{"s":14,"x":0,"y":1},{"s":14,"x":1,"y":-0.04},{"s":14,"x":2,"y":0.05},{"s":14,"x":3,"y":-0.02},{"s":14,"x":4,"y":0.04},{"s":14,"x":5,"y":0.1},{"s":14,"x":6,"y":0.02},{"s":14,"x":7,"y":-0.05},{"s":14,"x":8,"y":-0.02},{"s":14,"x":9,"y":-0.05},{"s":14,"x":10,"y":-0.01},{"s":14,"x":11,"y":-0.08},{"s":14,"x":12,"y":-0.04},{"s":14,"x":13,"y":0},{"s":14,"x":14,"y":-0.09},{"s":14,"x":15,"y":-0.05},{"s":14,"x":16,"y":0},{"s":14,"x":17,"y":-0.08},{"s":14,"x":18,"y":-0.05},{"s":14,"x":19,"y":-0.03},{"s":14,"x":20,"y":0.09},
{"s":15,"x":0,"y":1},{"s":15,"x":1,"y":0.07},{"s":15,"x":2,"y":-0.06},{"s":15,"x":3,"y":0.01},{"s":15,"x":4,"y":-0.07},{"s":15,"x":5,"y":-0.1},{"s":15,"x":6,"y":0.07},{"s":15,"x":7,"y":0.02},{"s":15,"x":8,"y":-0.08},{"s":15,"x":9,"y":0},{"s":15,"x":10,"y":0.06},{"s":15,"x":11,"y":0.01},{"s":15,"x":12,"y":-0.07},{"s":15,"x":13,"y":-0.04},{"s":15,"x":14,"y":0},{"s":15,"x":15,"y":-0.06},{"s":15,"x":16,"y":0.02},{"s":15,"x":17,"y":0},{"s":15,"x":18,"y":0.03},{"s":15,"x":19,"y":-0.08},{"s":15,"x":20,"y":-0.04},
{"s":16,"x":0,"y":1},{"s":16,"x":1,"y":0.17},{"s":16,"x":2,"y":0.14},{"s":16,"x":3,"y":0.04},{"s":16,"x":4,"y":0.09},{"s":16,"x":5,"y":0},{"s":16,"x":6,"y":-0.02},{"s":16,"x":7,"y":-0.09},{"s":16,"x":8,"y":0.05},{"s":16,"x":9,"y":0.03},{"s":16,"x":10,"y":-0.05},{"s":16,"x":11,"y":-0.02},{"s":16,"x":12,"y":0.03},{"s":16,"x":13,"y":0.03},{"s":16,"x":14,"y":-0.04},{"s":16,"x":15,"y":-0.07},{"s":16,"x":16,"y":-0.01},{"s":16,"x":17,"y":-0.05},{"s":16,"x":18,"y":-0.03},{"s":16,"x":19,"y":0.06},{"s":16,"x":20,"y":0.01},
{"s":17,"x":0,"y":1},{"s":17,"x":1,"y":-0.06},{"s":17,"x":2,"y":0},{"s":17,"x":3,"y":-0.05},{"s":17,"x":4,"y":-0.02},{"s":17,"x":5,"y":0.04},{"s":17,"x":6,"y":0.03},{"s":17,"x":7,"y":0.01},{"s":17,"x":8,"y":-0.06},{"s":17,"x":9,"y":-0.03},{"s":17,"x":10,"y":0.05},{"s":17,"x":11,"y":0.07},{"s":17,"x":12,"y":-0.05},{"s":17,"x":13,"y":0.01},{"s":17,"x":14,"y":-0.02},{"s":17,"x":15,"y":-0.04},{"s":17,"x":16,"y":0.06},{"s":17,"x":17,"y":-0.09},{"s":17,"x":18,"y":-0.06},{"s":17,"x":19,"y":-0.05},{"s":17,"x":20,"y":-0.06},
{"s":18,"x":0,"y":1},{"s":18,"x":1,"y":0.13},{"s":18,"x":2,"y":0},{"s":18,"x":3,"y":0.08},{"s":18,"x":4,"y":0.11},{"s":18,"x":5,"y":-0.06},{"s":18,"x":6,"y":0.04},{"s":18,"x":7,"y":0.04},{"s":18,"x":8,"y":-0.1},{"s":18,"x":9,"y":0.06},{"s":18,"x":10,"y":-0.03},{"s":18,"x":11,"y":-0.07},{"s":18,"x":12,"y":0.02},{"s":18,"x":13,"y":-0.08},{"s":18,"x":14,"y":0.05},{"s":18,"x":15,"y":0.01},{"s":18,"x":16,"y":-0.05},{"s":18,"x":17,"y":-0.03},{"s":18,"x":18,"y":0.09},{"s":18,"x":19,"y":0.02},{"s":18,"x":20,"y":0.05}
],
"d":[
{"s":1,"x":0,"y":1},{"s":1,"x":1,"y":0.25},{"s":1,"x":2,"y":0.2},{"s":1,"x":3,"y":0.12},{"s":1,"x":4,"y":0.08},{"s":1,"x":5,"y":0.05},{"s":1,"x":6,"y":0.1},{"s":1,"x":7,"y":0.04},{"s":1,"x":8,"y":0.07},{"s":1,"x":9,"y":0.02},{"s":1,"x":10,"y":0.05},{"s":1,"x":11,"y":0.08},{"s":1,"x":12,"y":0.03},{"s":1,"x":13,"y":0.06},{"s":1,"x":14,"y":0.01},{"s":1,"x":15,"y":0.04},{"s":1,"x":16,"y":0.07},{"s":1,"x":17,"y":0.03},{"s":1,"x":18,"y":0.05},{"s":1,"x":19,"y":0.02},{"s":1,"x":20,"y":0.06},
{"s":2,"x":0,"y":1},{"s":2,"x":1,"y":0.18},{"s":2,"x":2,"y":0.12},{"s":2,"x":3,"y":0.1},{"s":2,"x":4,"y":0.06},{"s":2,"x":5,"y":0.02},{"s":2,"x":6,"y":0.05},{"s":2,"x":7,"y":-0.02},{"s":2,"x":8,"y":0.04},{"s":2,"x":9,"y":0},{"s":2,"x":10,"y":0.03},{"s":2,"x":11,"y":-0.03},{"s":2,"x":12,"y":0.02},{"s":2,"x":13,"y":0.05},{"s":2,"x":14,"y":0},{"s":2,"x":15,"y":-0.02},{"s":2,"x":16,"y":0.03},{"s":2,"x":17,"y":0.01},{"s":2,"x":18,"y":-0.04},{"s":2,"x":19,"y":0.02},{"s":2,"x":20,"y":0},
{"s":3,"x":0,"y":1},{"s":3,"x":1,"y":-0.08},{"s":3,"x":2,"y":0.06},{"s":3,"x":3,"y":0.04},{"s":3,"x":4,"y":0.1},{"s":3,"x":5,"y":0.03},{"s":3,"x":6,"y":-0.02},{"s":3,"x":7,"y":0.05},{"s":3,"x":8,"y":0.08},{"s":3,"x":9,"y":0.01},{"s":3,"x":10,"y":0.04},{"s":3,"x":11,"y":-0.01},{"s":3,"x":12,"y":0.06},{"s":3,"x":13,"y":0},{"s":3,"x":14,"y":0.03},{"s":3,"x":15,"y":0.07},{"s":3,"x":16,"y":0.02},{"s":3,"x":17,"y":-0.01},{"s":3,"x":18,"y":0.05},{"s":3,"x":19,"y":0.08},{"s":3,"x":20,"y":0.03},
{"s":4,"x":0,"y":1},{"s":4,"x":1,"y":0.22},{"s":4,"x":2,"y":0.21},{"s":4,"x":3,"y":0.19},{"s":4,"x":4,"y":0.2},{"s":4,"x":5,"y":0.17},{"s":4,"x":6,"y":0.14},{"s":4,"x":7,"y":0.16},{"s":4,"x":8,"y":0.12},{"s":4,"x":9,"y":0.13},{"s":4,"x":10,"y":0.1},{"s":4,"x":11,"y":0.12},{"s":4,"x":12,"y":0.09},{"s":4,"x":13,"y":0.13},{"s":4,"x":14,"y":0.12},{"s":4,"x":15,"y":0.15},{"s":4,"x":16,"y":0.14},{"s":4,"x":17,"y":0.16},{"s":4,"x":18,"y":0.17},{"s":4,"x":19,"y":0.19},{"s":4,"x":20,"y":0.18},
{"s":5,"x":0,"y":1},{"s":5,"x":1,"y":0.3},{"s":5,"x":2,"y":0.15},{"s":5,"x":3,"y":0.09},{"s":5,"x":4,"y":0.11},{"s":5,"x":5,"y":0.04},{"s":5,"x":6,"y":0.07},{"s":5,"x":7,"y":0.03},{"s":5,"x":8,"y":0.08},{"s":5,"x":9,"y":0.04},{"s":5,"x":10,"y":0.01},{"s":5,"x":11,"y":0.05},{"s":5,"x":12,"y":0.02},{"s":5,"x":13,"y":0.06},{"s":5,"x":14,"y":0.03},{"s":5,"x":15,"y":0},{"s":5,"x":16,"y":0.04},{"s":5,"x":17,"y":0.02},{"s":5,"x":18,"y":0.05},{"s":5,"x":19,"y":0.01},{"s":5,"x":20,"y":0.04},
{"s":6,"x":0,"y":1},{"s":6,"x":1,"y":0.12},{"s":6,"x":2,"y":0.05},{"s":6,"x":3,"y":0.08},{"s":6,"x":4,"y":0.02},{"s":6,"x":5,"y":0.06},{"s":6,"x":6,"y":-0.03},{"s":6,"x":7,"y":0.02},{"s":6,"x":8,"y":-0.05},{"s":6,"x":9,"y":0.01},{"s":6,"x":10,"y":-0.04},{"s":6,"x":11,"y":0.03},{"s":6,"x":12,"y":-0.02},{"s":6,"x":13,"y":0.01},{"s":6,"x":14,"y":-0.06},{"s":6,"x":15,"y":0},{"s":6,"x":16,"y":-0.03},{"s":6,"x":17,"y":-0.05},{"s":6,"x":18,"y":0},{"s":6,"x":19,"y":-0.02},{"s":6,"x":20,"y":-0.06},
{"s":7,"x":0,"y":1},{"s":7,"x":1,"y":0.2},{"s":7,"x":2,"y":0.14},{"s":7,"x":3,"y":0.07},{"s":7,"x":4,"y":0.12},{"s":7,"x":5,"y":0.09},{"s":7,"x":6,"y":0.06},{"s":7,"x":7,"y":0.1},{"s":7,"x":8,"y":0.05},{"s":7,"x":9,"y":0.08},{"s":7,"x":10,"y":0.11},{"s":7,"x":11,"y":0.06},{"s":7,"x":12,"y":0.09},{"s":7,"x":13,"y":0.04},{"s":7,"x":14,"y":0.07},{"s":7,"x":15,"y":0.1},{"s":7,"x":16,"y":0.05},{"s":7,"x":17,"y":0.08},{"s":7,"x":18,"y":0.06},{"s":7,"x":19,"y":0.09},{"s":7,"x":20,"y":0.11},
{"s":8,"x":0,"y":1},{"s":8,"x":1,"y":0.15},{"s":8,"x":2,"y":0.08},{"s":8,"x":3,"y":0.1},{"s":8,"x":4,"y":-0.02},{"s":8,"x":5,"y":0.04},{"s":8,"x":6,"y":0},{"s":8,"x":7,"y":0.05},{"s":8,"x":8,"y":-0.03},{"s":8,"x":9,"y":0.02},{"s":8,"x":10,"y":-0.08},{"s":8,"x":11,"y":0.01},{"s":8,"x":12,"y":0.03},{"s":8,"x":13,"y":-0.04},{"s":8,"x":14,"y":0.02},{"s":8,"x":15,"y":-0.06},{"s":8,"x":16,"y":-0.01},{"s":8,"x":17,"y":0.03},{"s":8,"x":18,"y":-0.05},{"s":8,"x":19,"y":0},{"s":8,"x":20,"y":-0.1},
{"s":9,"x":0,"y":1},{"s":9,"x":1,"y":0.1},{"s":9,"x":2,"y":0.02},{"s":9,"x":3,"y":-0.06},{"s":9,"x":4,"y":0.03},{"s":9,"x":5,"y":0},{"s":9,"x":6,"y":0.05},{"s":9,"x":7,"y":-0.02},{"s":9,"x":8,"y":0.04},{"s":9,"x":9,"y":0.08},{"s":9,"x":10,"y":0.03},{"s":9,"x":11,"y":-0.02},{"s":9,"x":12,"y":0.05},{"s":9,"x":13,"y":0.01},{"s":9,"x":14,"y":0.06},{"s":9,"x":15,"y":0.02},{"s":9,"x":16,"y":-0.03},{"s":9,"x":17,"y":0.04},{"s":9,"x":18,"y":0},{"s":9,"x":19,"y":0.05},{"s":9,"x":20,"y":0.02},
{"s":10,"x":0,"y":1},{"s":10,"x":1,"y":0.26},{"s":10,"x":2,"y":0.18},{"s":10,"x":3,"y":0.15},{"s":10,"x":4,"y":0.16},{"s":10,"x":5,"y":0.23},{"s":10,"x":6,"y":0.18},{"s":10,"x":7,"y":0.2},{"s":10,"x":8,"y":0.15},{"s":10,"x":9,"y":0.2},{"s":10,"x":10,"y":0.22},{"s":10,"x":11,"y":0.17},{"s":10,"x":12,"y":0.12},{"s":10,"x":13,"y":0.16},{"s":10,"x":14,"y":0.1},{"s":10,"x":15,"y":0.13},{"s":10,"x":16,"y":0.08},{"s":10,"x":17,"y":0.11},{"s":10,"x":18,"y":0.07},{"s":10,"x":19,"y":0.21},{"s":10,"x":20,"y":0.05},
{"s":11,"x":0,"y":1},{"s":11,"x":1,"y":0.08},{"s":11,"x":2,"y":0.1},{"s":11,"x":3,"y":0.03},{"s":11,"x":4,"y":0.07},{"s":11,"x":5,"y":-0.04},{"s":11,"x":6,"y":0.02},{"s":11,"x":7,"y":0.06},{"s":11,"x":8,"y":0},{"s":11,"x":9,"y":0.03},{"s":11,"x":10,"y":-0.02},{"s":11,"x":11,"y":0.04},{"s":11,"x":12,"y":0.07},{"s":11,"x":13,"y":0.02},{"s":11,"x":14,"y":-0.03},{"s":11,"x":15,"y":0.05},{"s":11,"x":16,"y":0.01},{"s":11,"x":17,"y":0.06},{"s":11,"x":18,"y":0.03},{"s":11,"x":19,"y":-0.01},{"s":11,"x":20,"y":0.04},
{"s":12,"x":0,"y":1},{"s":12,"x":1,"y":0.19},{"s":12,"x":2,"y":0.09},{"s":12,"x":3,"y":0.13},{"s":12,"x":4,"y":0.05},{"s":12,"x":5,"y":0.08},{"s":12,"x":6,"y":0.03},{"s":12,"x":7,"y":0.06},{"s":12,"x":8,"y":0.1},{"s":12,"x":9,"y":0.04},{"s":12,"x":10,"y":0.07},{"s":12,"x":11,"y":0.02},{"s":12,"x":12,"y":0.05},{"s":12,"x":13,"y":0.09},{"s":12,"x":14,"y":0.03},{"s":12,"x":15,"y":0.06},{"s":12,"x":16,"y":0.1},{"s":12,"x":17,"y":0.04},{"s":12,"x":18,"y":0.07},{"s":12,"x":19,"y":0.03},{"s":12,"x":20,"y":0.1},
{"s":13,"x":0,"y":1},{"s":13,"x":1,"y":0.14},{"s":13,"x":2,"y":0.1},{"s":13,"x":3,"y":0.06},{"s":13,"x":4,"y":-0.03},{"s":13,"x":5,"y":0.02},{"s":13,"x":6,"y":-0.06},{"s":13,"x":7,"y":0.01},{"s":13,"x":8,"y":0.03},{"s":13,"x":9,"y":-0.05},{"s":13,"x":10,"y":-0.01},{"s":13,"x":11,"y":0.02},{"s":13,"x":12,"y":-0.09},{"s":13,"x":13,"y":-0.03},{"s":13,"x":14,"y":0},{"s":13,"x":15,"y":-0.07},{"s":13,"x":16,"y":-0.02},{"s":13,"x":17,"y":0.01},{"s":13,"x":18,"y":-0.04},{"s":13,"x":19,"y":-0.06},{"s":13,"x":20,"y":-0.02},
{"s":14,"x":0,"y":1},{"s":14,"x":1,"y":0.24},{"s":14,"x":2,"y":0.16},{"s":14,"x":3,"y":0.11},{"s":14,"x":4,"y":0.07},{"s":14,"x":5,"y":0.12},{"s":14,"x":6,"y":0.15},{"s":14,"x":7,"y":0.24},{"s":14,"x":8,"y":0.18},{"s":14,"x":9,"y":0.14},{"s":14,"x":10,"y":0.1},{"s":14,"x":11,"y":0.06},{"s":14,"x":12,"y":0.09},{"s":14,"x":13,"y":0.05},{"s":14,"x":14,"y":0.08},{"s":14,"x":15,"y":0.12},{"s":14,"x":16,"y":0.06},{"s":14,"x":17,"y":0.1},{"s":14,"x":18,"y":0.07},{"s":14,"x":19,"y":0.04},{"s":14,"x":20,"y":0.09},
{"s":15,"x":0,"y":1},{"s":15,"x":1,"y":0.05},{"s":15,"x":2,"y":0.08},{"s":15,"x":3,"y":0.02},{"s":15,"x":4,"y":0.05},{"s":15,"x":5,"y":-0.05},{"s":15,"x":6,"y":0.04},{"s":15,"x":7,"y":-0.13},{"s":15,"x":8,"y":-0.02},{"s":15,"x":9,"y":0.03},{"s":15,"x":10,"y":0},{"s":15,"x":11,"y":-0.04},{"s":15,"x":12,"y":0.02},{"s":15,"x":13,"y":-0.06},{"s":15,"x":14,"y":0.01},{"s":15,"x":15,"y":0.04},{"s":15,"x":16,"y":-0.02},{"s":15,"x":17,"y":0.03},{"s":15,"x":18,"y":-0.03},{"s":15,"x":19,"y":0},{"s":15,"x":20,"y":-0.11},
{"s":16,"x":0,"y":1},{"s":16,"x":1,"y":0.21},{"s":16,"x":2,"y":0.13},{"s":16,"x":3,"y":0.09},{"s":16,"x":4,"y":0.04},{"s":16,"x":5,"y":0.1},{"s":16,"x":6,"y":0.06},{"s":16,"x":7,"y":0.02},{"s":16,"x":8,"y":0.07},{"s":16,"x":9,"y":0.12},{"s":16,"x":10,"y":0.05},{"s":16,"x":11,"y":0.03},{"s":16,"x":12,"y":0.08},{"s":16,"x":13,"y":0.04},{"s":16,"x":14,"y":0.11},{"s":16,"x":15,"y":0.07},{"s":16,"x":16,"y":0.03},{"s":16,"x":17,"y":0.06},{"s":16,"x":18,"y":0.09},{"s":16,"x":19,"y":0.04},{"s":16,"x":20,"y":0.07},
{"s":17,"x":0,"y":1},{"s":17,"x":1,"y":0.16},{"s":17,"x":2,"y":0.06},{"s":17,"x":3,"y":0.1},{"s":17,"x":4,"y":0.08},{"s":17,"x":5,"y":0.01},{"s":17,"x":6,"y":0.05},{"s":17,"x":7,"y":0.09},{"s":17,"x":8,"y":0.02},{"s":17,"x":9,"y":0.06},{"s":17,"x":10,"y":0.13},{"s":17,"x":11,"y":0.04},{"s":17,"x":12,"y":0},{"s":17,"x":13,"y":0.05},{"s":17,"x":14,"y":0.02},{"s":17,"x":15,"y":0.06},{"s":17,"x":16,"y":0.09},{"s":17,"x":17,"y":0.03},{"s":17,"x":18,"y":0.06},{"s":17,"x":19,"y":0.02},{"s":17,"x":20,"y":0.05},
{"s":18,"x":0,"y":1},{"s":18,"x":1,"y":0.11},{"s":18,"x":2,"y":0.04},{"s":18,"x":3,"y":-0.1},{"s":18,"x":4,"y":0.01},{"s":18,"x":5,"y":0.05},{"s":18,"x":6,"y":-0.02},{"s":18,"x":7,"y":0.03},{"s":18,"x":8,"y":0},{"s":18,"x":9,"y":-0.08},{"s":18,"x":10,"y":0.02},{"s":18,"x":11,"y":-0.03},{"s":18,"x":12,"y":0.04},{"s":18,"x":13,"y":-0.01},{"s":18,"x":14,"y":0.03},{"s":18,"x":15,"y":-0.05},{"s":18,"x":16,"y":0.02},{"s":18,"x":17,"y":-0.02},{"s":18,"x":18,"y":0.01},{"s":18,"x":19,"y":-0.04},{"s":18,"x":20,"y":0.03},
{"s":19,"x":0,"y":1},{"s":19,"x":1,"y":0.28},{"s":19,"x":2,"y":0.2},{"s":19,"x":3,"y":0.14},{"s":19,"x":4,"y":0.1},{"s":19,"x":5,"y":0.07},{"s":19,"x":6,"y":0.12},{"s":19,"x":7,"y":0.08},{"s":19,"x":8,"y":0.05},{"s":19,"x":9,"y":0.09},{"s":19,"x":10,"y":0.04},{"s":19,"x":11,"y":0.07},{"s":19,"x":12,"y":0.1},{"s":19,"x":13,"y":0.05},{"s":19,"x":14,"y":0.08},{"s":19,"x":15,"y":0.03},{"s":19,"x":16,"y":0.06},{"s":19,"x":17,"y":0.09},{"s":19,"x":18,"y":0.05},{"s":19,"x":19,"y":0.12},{"s":19,"x":20,"y":0.08},
{"s":20,"x":0,"y":1},{"s":20,"x":1,"y":0.13},{"s":20,"x":2,"y":0.07},{"s":20,"x":3,"y":0.04},{"s":20,"x":4,"y":0.06},{"s":20,"x":5,"y":0},{"s":20,"x":6,"y":0.03},{"s":20,"x":7,"y":0.07},{"s":20,"x":8,"y":0.02},{"s":20,"x":9,"y":-0.02},{"s":20,"x":10,"y":0.05},{"s":20,"x":11,"y":0.01},{"s":20,"x":12,"y":0.04},{"s":20,"x":13,"y":-0.03},{"s":20,"x":14,"y":0.02},{"s":20,"x":15,"y":0.05},{"s":20,"x":16,"y":0},{"s":20,"x":17,"y":0.03},{"s":20,"x":18,"y":0.06},{"s":20,"x":19,"y":0.01},{"s":20,"x":20,"y":0.02},
{"s":21,"x":0,"y":1},{"s":21,"x":1,"y":0.09},{"s":21,"x":2,"y":0},{"s":21,"x":3,"y":0.05},{"s":21,"x":4,"y":0.02},{"s":21,"x":5,"y":0.07},{"s":21,"x":6,"y":0.01},{"s":21,"x":7,"y":-0.04},{"s":21,"x":8,"y":0.03},{"s":21,"x":9,"y":0.06},{"s":21,"x":10,"y":-0.1},{"s":21,"x":11,"y":0},{"s":21,"x":12,"y":0.04},{"s":21,"x":13,"y":-0.02},{"s":21,"x":14,"y":0.05},{"s":21,"x":15,"y":-0.01},{"s":21,"x":16,"y":0.03},{"s":21,"x":17,"y":0},{"s":21,"x":18,"y":-0.03},{"s":21,"x":19,"y":0.02},{"s":21,"x":20,"y":-0.04},
{"s":22,"x":0,"y":1},{"s":22,"x":1,"y":0.2},{"s":22,"x":2,"y":0.16},{"s":22,"x":3,"y":0.12},{"s":22,"x":4,"y":0.09},{"s":22,"x":5,"y":0.13},{"s":22,"x":6,"y":0.08},{"s":22,"x":7,"y":0.11},{"s":22,"x":8,"y":0.07},{"s":22,"x":9,"y":0.1},{"s":22,"x":10,"y":0.06},{"s":22,"x":11,"y":0.09},{"s":22,"x":12,"y":0.12},{"s":22,"x":13,"y":0.08},{"s":22,"x":14,"y":0.05},{"s":22,"x":15,"y":0.09},{"s":22,"x":16,"y":0.13},{"s":22,"x":17,"y":0.07},{"s":22,"x":18,"y":0.1},{"s":22,"x":19,"y":0.06},{"s":22,"x":20,"y":0.12},
{"s":23,"x":0,"y":1},{"s":23,"x":1,"y":0.17},{"s":23,"x":2,"y":0.11},{"s":23,"x":3,"y":0.08},{"s":23,"x":4,"y":0.03},{"s":23,"x":5,"y":0.06},{"s":23,"x":6,"y":0.09},{"s":23,"x":7,"y":0.04},{"s":23,"x":8,"y":0},{"s":23,"x":9,"y":0.05},{"s":23,"x":10,"y":0.08},{"s":23,"x":11,"y":0.02},{"s":23,"x":12,"y":0.06},{"s":23,"x":13,"y":0.1},{"s":23,"x":14,"y":0.04},{"s":23,"x":15,"y":0.01},{"s":23,"x":16,"y":0.05},{"s":23,"x":17,"y":0.08},{"s":23,"x":18,"y":0.02},{"s":23,"x":19,"y":0.06},{"s":23,"x":20,"y":0.03},
{"s":24,"x":0,"y":1},{"s":24,"x":1,"y":0.06},{"s":24,"x":2,"y":0.03},{"s":24,"x":3,"y":0.07},{"s":24,"x":4,"y":0},{"s":24,"x":5,"y":0.04},{"s":24,"x":6,"y":0.06},{"s":24,"x":7,"y":0.01},{"s":24,"x":8,"y":0.05},{"s":24,"x":9,"y":0.02},{"s":24,"x":10,"y":-0.03},{"s":24,"x":11,"y":0.03},{"s":24,"x":12,"y":0.01},{"s":24,"x":13,"y":0.05},{"s":24,"x":14,"y":-0.02},{"s":24,"x":15,"y":0.02},{"s":24,"x":16,"y":0.04},{"s":24,"x":17,"y":-0.01},{"s":24,"x":18,"y":0.03},{"s":24,"x":19,"y":0.07},{"s":24,"x":20,"y":0},
{"s":25,"x":0,"y":1},{"s":25,"x":1,"y":0.23},{"s":25,"x":2,"y":0.19},{"s":25,"x":3,"y":0.1},{"s":25,"x":4,"y":0.14},{"s":25,"x":5,"y":0.09},{"s":25,"x":6,"y":0.05},{"s":25,"x":7,"y":0.08},{"s":25,"x":8,"y":0.12},{"s":25,"x":9,"y":0.07},{"s":25,"x":10,"y":0.04},{"s":25,"x":11,"y":0.1},{"s":25,"x":12,"y":0.06},{"s":25,"x":13,"y":0.03},{"s":25,"x":14,"y":0.08},{"s":25,"x":15,"y":0.05},{"s":25,"x":16,"y":0.09},{"s":25,"x":17,"y":0.12},{"s":25,"x":18,"y":0.06},{"s":25,"x":19,"y":0.04},{"s":25,"x":20,"y":0.1},
{"s":26,"x":0,"y":1},{"s":26,"x":1,"y":0.14},{"s":26,"x":2,"y":0.05},{"s":26,"x":3,"y":0.09},{"s":26,"x":4,"y":0.01},{"s":26,"x":5,"y":0.05},{"s":26,"x":6,"y":-0.03},{"s":26,"x":7,"y":0.04},{"s":26,"x":8,"y":0.01},{"s":26,"x":9,"y":0.06},{"s":26,"x":10,"y":0.02},{"s":26,"x":11,"y":-0.02},{"s":26,"x":12,"y":0.03},{"s":26,"x":13,"y":0.07},{"s":26,"x":14,"y":0},{"s":26,"x":15,"y":0.04},{"s":26,"x":16,"y":0.01},{"s":26,"x":17,"y":-0.03},{"s":26,"x":18,"y":0.02},{"s":26,"x":19,"y":0.05},{"s":26,"x":20,"y":-0.01},
{"s":27,"x":0,"y":1},{"s":27,"x":1,"y":0.19},{"s":27,"x":2,"y":0.12},{"s":27,"x":3,"y":0.06},{"s":27,"x":4,"y":0.09},{"s":27,"x":5,"y":0.03},{"s":27,"x":6,"y":0.07},{"s":27,"x":7,"y":0.1},{"s":27,"x":8,"y":0.05},{"s":27,"x":9,"y":0.02},{"s":27,"x":10,"y":0.06},{"s":27,"x":11,"y":0.04},{"s":27,"x":12,"y":0.08},{"s":27,"x":13,"y":0.02},{"s":27,"x":14,"y":0.05},{"s":27,"x":15,"y":0.09},{"s":27,"x":16,"y":0.04},{"s":27,"x":17,"y":0.07},{"s":27,"x":18,"y":0.11},{"s":27,"x":19,"y":0.05},{"s":27,"x":20,"y":0.08},
{"s":28,"x":0,"y":1},{"s":28,"x":1,"y":0.12},{"s":28,"x":2,"y":0.09},{"s":28,"x":3,"y":0.02},{"s":28,"x":4,"y":0.04},{"s":28,"x":5,"y":0.08},{"s":28,"x":6,"y":0.02},{"s":28,"x":7,"y":-0.01},{"s":28,"x":8,"y":0.04},{"s":28,"x":9,"y":0.07},{"s":28,"x":10,"y":0.03},{"s":28,"x":11,"y":0.05},{"s":28,"x":12,"y":-0.01},{"s":28,"x":13,"y":0.03},{"s":28,"x":14,"y":0.06},{"s":28,"x":15,"y":0.02},{"s":28,"x":16,"y":-0.02},{"s":28,"x":17,"y":0.04},{"s":28,"x":18,"y":0.01},{"s":28,"x":19,"y":0.05},{"s":28,"x":20,"y":0.02}
]
},
"spacing":2,
"vconcat":[
{"spacing":16,"resolve":{"scale":{"color":"independent"},"legend":{"color":"independent"}},"hconcat":[
{"title":{"text":"A","anchor":"start","frame":"bounds","fontSize":20,"fontWeight":"bold","dx":-14,"offset":-3},
"resolve":{"scale":{"color":"independent"},"legend":{"color":"independent"}},
"vconcat":[{
"title":{"text":"Mouse","fontSize":16,"fontWeight":"normal","offset":-4},
"width":263,"height":204,"data":{"name":"a"},
"layer":[
{"mark":{"type":"line","clip":true},
"encoding":{
"x":{"field":"x","type":"quantitative","scale":{"domain":[0,40],"nice":false},"axis":{"values":[0,10,20,30,40],"title":"Dwell Length (Trials)"}},
"y":{"field":"y","type":"quantitative","scale":{"type":"log","domain":[0.01,1],"nice":false},"axis":{"values":[0.01,0.1,1],"labelExpr":"datum.value >= 0.5 ? '10⁰' : datum.value >= 0.05 ? '10⁻¹' : '10⁻²'","title":"1- Survivor Function","titlePadding":16}},
"color":{"field":"g","type":"nominal","scale":{"domain":["R","U"],"range":["#22b02c","#2424ee"]},"legend":{"title":null,"orient":"top-right","offset":5,"padding":0,"labelExpr":"datum.label == 'R' ? 'Responsive' : 'Unresponsive'","symbolType":"square","symbolSize":25,"symbolStrokeWidth":5,"labelFontSize":15,"labelColor":"#000000","rowPadding":-6,"labelOffset":2,"encode":{"symbols":{"update":{"strokeWidth":{"value":5}}}}}},
"detail":{"field":"s","type":"nominal"},
"strokeWidth":{"value":0.8}}},
{"mark":{"type":"line","strokeOpacity":0},
"encoding":{"x":{"field":"x","type":"quantitative"},"y":{"field":"y","type":"quantitative","axis":{"orient":"left","values":[0.02,0.03,0.04,0.05,0.06,0.07,0.08,0.09,0.2,0.3,0.4,0.5,0.6,0.7,0.8,0.9],"labels":false,"domain":false,"tickSize":-2.5,"title":null}},"detail":{"field":"s","type":"nominal"}}}
],
"resolve":{"axis":{"y":"independent"}}
}]},
{"title":{"text":"B","anchor":"start","frame":"bounds","fontSize":20,"fontWeight":"bold","dx":-14,"offset":-3},
"resolve":{"scale":{"color":"independent"},"legend":{"color":"independent"}},
"vconcat":[{
"title":{"text":"Zebrafish","fontSize":16,"fontWeight":"normal","offset":-4},
"width":263,"height":204,"data":{"name":"b"},
"layer":[
{"mark":{"type":"line","clip":true},
"encoding":{
"x":{"field":"x","type":"quantitative","scale":{"domain":[0,60],"nice":false},"axis":{"values":[0,20,40,60],"title":"Dwell Length (Trials)"}},
"y":{"field":"y","type":"quantitative","scale":{"type":"log","domain":[0.01,1],"nice":false},"axis":{"values":[0.01,0.1,1],"labelExpr":"datum.value >= 0.5 ? '10⁰' : datum.value >= 0.05 ? '10⁻¹' : '10⁻²'","title":"1- Survivor Function","titlePadding":16}},
"color":{"field":"g","type":"nominal","scale":{"domain":["R","U"],"range":["#22b02c","#2424ee"]},"legend":{"title":null,"orient":"top-right","offset":5,"padding":0,"labelExpr":"datum.label == 'R' ? 'Responsive' : 'Unresponsive'","symbolType":"square","symbolSize":25,"symbolStrokeWidth":5,"labelFontSize":15,"labelColor":"#000000","rowPadding":-6,"labelOffset":2,"encode":{"symbols":{"update":{"strokeWidth":{"value":5}}}}}},
"detail":{"field":"s","type":"nominal"},
"strokeWidth":{"value":0.8}}},
{"mark":{"type":"line","strokeOpacity":0},
"encoding":{"x":{"field":"x","type":"quantitative"},"y":{"field":"y","type":"quantitative","axis":{"orient":"left","values":[0.02,0.03,0.04,0.05,0.06,0.07,0.08,0.09,0.2,0.3,0.4,0.5,0.6,0.7,0.8,0.9],"labels":false,"domain":false,"tickSize":-2.5,"title":null}},"detail":{"field":"s","type":"nominal"}}}
],
"resolve":{"axis":{"y":"independent"}}
}]}
]},
{"spacing":16,"resolve":{"scale":{"color":"independent"},"legend":{"color":"independent"}},"hconcat":[
{"title":{"text":"C","anchor":"start","frame":"bounds","fontSize":20,"fontWeight":"bold","dx":-14,"offset":3},
"vconcat":[{
"width":263,"height":204,"data":{"name":"c"},
"mark":{"type":"line","clip":true},
"encoding":{
"x":{"field":"x","type":"quantitative","scale":{"domain":[0,20],"nice":false},"axis":{"values":[0,5,10,15,20],"title":"Lag (# of Trials)"}},
"y":{"field":"y","type":"quantitative","scale":{"domain":[-0.25,1],"nice":false},"axis":{"values":[-0.25,0,0.25,0.5,0.75,1],"labelExpr":"'' + datum.value","title":"Autocorrelation","titlePadding":7}},
"color":{"field":"s","type":"nominal","scale":{"range":["#0072BD","#D95319","#EDB120","#7E2F8E","#77AC30","#4DBEEE","#A2142F"]},"legend":null},
"strokeWidth":{"value":0.8}}
}]},
{"title":{"text":"D","anchor":"start","frame":"bounds","fontSize":20,"fontWeight":"bold","dx":-14,"offset":3},
"vconcat":[{
"width":263,"height":204,"data":{"name":"d"},
"mark":{"type":"line","clip":true},
"encoding":{
"x":{"field":"x","type":"quantitative","scale":{"domain":[0,20],"nice":false},"axis":{"values":[0,5,10,15,20],"title":"Lag (# of Trials)"}},
"y":{"field":"y","type":"quantitative","scale":{"domain":[-0.25,1],"nice":false},"axis":{"values":[-0.25,0,0.25,0.5,0.75,1],"labelExpr":"'' + datum.value","title":"Autocorrelation","titlePadding":7}},
"color":{"field":"s","type":"nominal","scale":{"range":["#0072BD","#D95319","#EDB120","#7E2F8E","#77AC30","#4DBEEE","#A2142F"]},"legend":null},
"strokeWidth":{"value":0.8}}
}]}
]}
]
}
